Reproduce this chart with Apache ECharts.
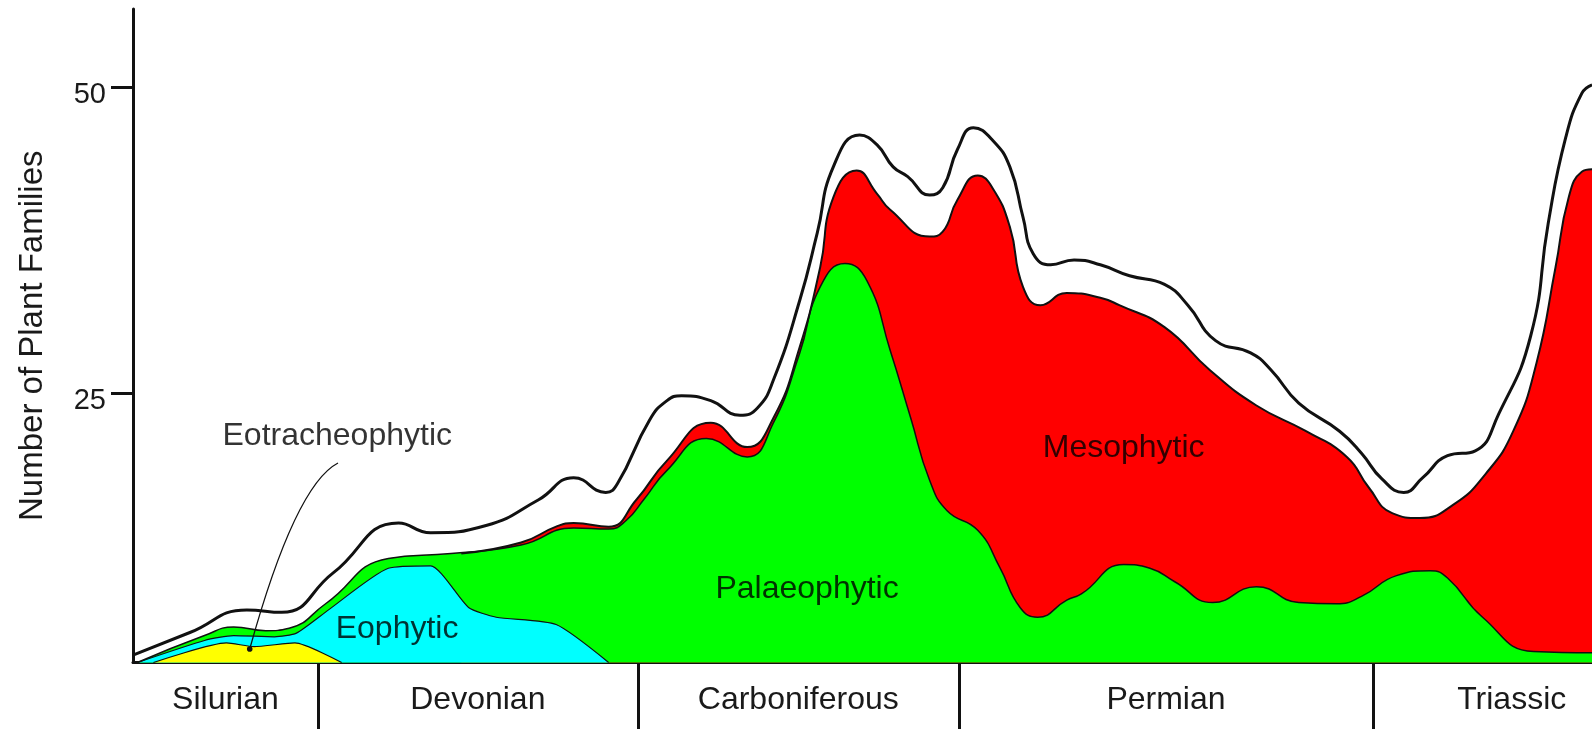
<!DOCTYPE html>
<html><head><meta charset="utf-8">
<script src="https://cdn.jsdelivr.net/npm/echarts@6/dist/echarts.min.js"></script>
<style>html,body{margin:0;padding:0;background:#fff}#c{width:1592px;height:729px}</style>
</head><body><div id="c"></div>
<script>
// ---- data (x = relative time position, 0..100; y = number of plant families) ----
const periods = ['Silurian', 'Devonian', 'Carboniferous', 'Permian', 'Triassic'];
const periodBounds = [0, 12.67, 34.6, 56.6, 85.0, 104];
const yTicks = [25, 50];

const totalX = [0, 3.9, 7.8, 10.2, 13.7, 18.2, 20.4, 24.2, 27.8, 30.2, 32.4, 33.2, 35.4, 36.6, 37.6, 39.6, 41.6, 42.8, 43.9, 45.7, 46.9, 48.0, 49.8, 51.0, 52.1, 53.1, 54.6, 55.5, 56.5, 57.6, 58.9, 60.1, 61.0, 61.7, 62.9, 64.5, 66.3, 68.3, 70.7, 72.3, 74.2, 76.6, 78.0, 79.9, 82.7, 84.2, 85.6, 87.1, 88.4, 90.1, 92.0, 93.6, 95.8, 97.0, 98.2, 99.3, 100];
const totalY = [3.6, 5.45, 7.3, 7.1, 10.3, 14.4, 13.6, 14.2, 16.3, 18.1, 16.9, 17.6, 22.8, 24.4, 24.8, 24.4, 23.2, 23.8, 26.1, 32.6, 38.1, 43.5, 46.1, 45.3, 43.5, 42.7, 41.2, 41.8, 44.9, 46.7, 45.7, 43.5, 39.4, 36.4, 35.5, 35.9, 35.5, 34.6, 33.9, 32.2, 29.3, 28.3, 26.9, 24.2, 21.9, 20.1, 18.0, 16.9, 18.1, 19.9, 20.3, 23.3, 29.7, 38.9, 45.9, 49.5, 50.2];

const mesophyticX = [22.5, 26.6, 29.0, 30.2, 32.6, 34.5, 36.6, 39.6, 42.1, 43.9, 45.7, 47.1, 48.0, 49.6, 51.0, 51.9, 54.6, 55.5, 56.5, 57.9, 58.9, 60.1, 61.0, 62.2, 64.0, 66.3, 67.6, 70.7, 73.8, 77.0, 80.4, 83.2, 84.7, 86.3, 88.2, 90.5, 92.7, 94.6, 96.2, 97.5, 98.4, 99.3, 100];
const mesophyticTop = [11.9, 12.8, 14.1, 14.4, 14.1, 16.3, 19.5, 22.6, 20.6, 23.0, 28.8, 35.3, 41.0, 43.2, 41.3, 40.0, 37.8, 38.2, 40.8, 42.8, 41.8, 38.6, 33.7, 32.2, 33.2, 32.8, 32.2, 30.4, 26.9, 24.0, 21.9, 19.8, 17.3, 15.2, 14.8, 15.9, 18.4, 21.9, 27.5, 35.3, 41.0, 43.1, 43.3];

const palaeophyticX = [0.3, 4.9, 6.9, 9.1, 10.7, 13.2, 17.5, 21.8, 26.6, 30.2, 32.6, 33.8, 35.0, 36.6, 39.3, 42.1, 43.9, 45.7, 47.1, 48.8, 50.3, 51.9, 53.3, 54.6, 55.8, 57.9, 59.4, 60.8, 62.0, 64.0, 65.0, 67.9, 69.7, 71.4, 74.0, 77.0, 79.9, 82.5, 84.2, 86.6, 88.9, 90.1, 92.5, 96.0, 100];
const palaeophyticTop = [3.0, 5.2, 5.9, 5.6, 5.8, 7.8, 11.5, 11.9, 12.6, 14.0, 13.9, 14.6, 16.3, 18.7, 21.3, 19.8, 22.6, 28.3, 33.7, 35.6, 34.2, 28.5, 23.0, 17.9, 15.4, 13.8, 10.8, 7.5, 6.7, 8.1, 8.6, 11.0, 10.7, 9.6, 7.9, 9.2, 7.9, 7.8, 8.4, 10.1, 10.5, 9.9, 6.7, 3.9, 3.8];

const eophyticX = [0.3, 4.9, 6.9, 9.7, 11.2, 13.4, 17.5, 20.4, 23.0, 24.9, 29.0, 32.6];
const eophyticTop = [3.0, 4.8, 5.2, 5.1, 5.4, 7.3, 10.7, 10.9, 7.5, 6.7, 6.1, 3.0];

const eotracheophyticX = [1.4, 6.4, 8.3, 11.1, 14.3];
const eotracheophyticTop = [3.0, 4.6, 4.3, 4.6, 3.0];

const labelNames = ['Eotracheophytic', 'Eophytic', 'Palaeophytic', 'Mesophytic'];
const labelX = [14.0, 18.1, 46.2, 67.9];
const labelY = [21.5, 5.7, 9.0, 20.5];

// pointer from the Eotracheophytic label down to its band (start, control 1, control 2, end)
const pointerX = [14.05, 11.8, 9.7, 8.0];
const pointerY = [19.3, 17.9, 11.4, 4.1];

// ---- chart ----
const FONT = '"Liberation Sans", Arial, Helvetica, sans-serif';
const INK = '#111';
const pairs = (xs, ys) => xs.map((x, i) => [x, ys[i]]);
const mids = periods.map((p, i) => (periodBounds[i] + periodBounds[i + 1]) / 2);

function band(name, xs, ys, fill, lw, smooth) {
  return {
    name, type: 'line', data: pairs(xs, ys), smooth, symbol: 'none', silent: true,
    lineStyle: { color: INK, width: lw },
    areaStyle: { color: fill, opacity: 1, origin: 'start' }
  };
}

const chart = echarts.init(document.getElementById('c'), null, { renderer: 'canvas' });
chart.setOption({
  animation: false,
  backgroundColor: '#fff',
  grid: { left: 133, right: 0, top: 9, bottom: 66.5, containLabel: false },
  xAxis: {
    type: 'value', min: 0, max: 100,
    axisLine: { onZero: false, lineStyle: { color: INK, width: 3 } },
    axisTick: { show: true, customValues: periodBounds.slice(1, -1), length: 67, inside: false, lineStyle: { color: INK, width: 3 } },
    axisLabel: {
      customValues: mids, margin: 22, fontSize: 32, color: '#1a1a1a', fontFamily: FONT,
      formatter: v => {
        let best = 0;
        mids.forEach((m, i) => { if (Math.abs(m - v) < Math.abs(mids[best] - v)) best = i; });
        return periods[best];
      }
    },
    splitLine: { show: false }
  },
  yAxis: {
    type: 'value', min: 3, max: 56.4,
    name: 'Number of Plant Families', nameLocation: 'middle', nameGap: 84,
    nameTextStyle: { fontSize: 33, color: '#1a1a1a', fontFamily: FONT },
    axisLine: { show: true, onZero: false, lineStyle: { color: INK, width: 3 } },
    axisTick: { show: true, customValues: yTicks, length: 22, lineStyle: { color: INK, width: 3 } },
    axisLabel: {
      customValues: yTicks, margin: 27, color: '#1a1a1a', fontFamily: FONT, fontSize: 29,
      formatter: v => '{a|' + v + '}',
      rich: { a: { fontSize: 29, fontFamily: FONT, color: '#1a1a1a', padding: [16, 0, 0, 0] } }
    },
    splitLine: { show: false }
  },
  series: [
    band('Mesophytic', mesophyticX, mesophyticTop, '#ff0000', 2, 0.5),
    band('Palaeophytic', palaeophyticX, palaeophyticTop, '#00ff00', 1.5, 0.5),
    band('Eophytic', eophyticX, eophyticTop, '#00ffff', 1.2, 0.2),
    band('Eotracheophytic', eotracheophyticX, eotracheophyticTop, '#ffff00', 1.2, 0.2),
    {
      name: 'Total', type: 'line', data: pairs(totalX, totalY), smooth: 0.5, symbol: 'none', silent: true, z: 5,
      lineStyle: { color: INK, width: 3 }
    },
    {
      name: 'labels', type: 'scatter', symbolSize: 0, silent: true, z: 10,
      itemStyle: { color: '#000' },
      data: labelNames.map((n, i) => ({ name: n, value: [labelX[i], labelY[i]] })),
      label: { show: true, position: 'inside', formatter: '{b}', fontSize: 32, color: '#000',
               textBorderWidth: 0, textBorderColor: 'transparent', fontFamily: FONT }
    }
  ]
});

const P = pointerX.map((x, i) => chart.convertToPixel({ gridIndex: 0 }, [x, pointerY[i]]));
chart.setOption({
  graphic: [
    { type: 'bezierCurve', silent: true, z: 20,
      shape: { x1: P[0][0], y1: P[0][1], cpx1: P[1][0], cpy1: P[1][1], cpx2: P[2][0], cpy2: P[2][1], x2: P[3][0], y2: P[3][1] },
      style: { stroke: INK, lineWidth: 1.3, fill: null } },
    { type: 'circle', silent: true, z: 20, shape: { cx: P[3][0], cy: P[3][1], r: 2.8 }, style: { fill: INK } }
  ]
});
</script>
</body></html>
